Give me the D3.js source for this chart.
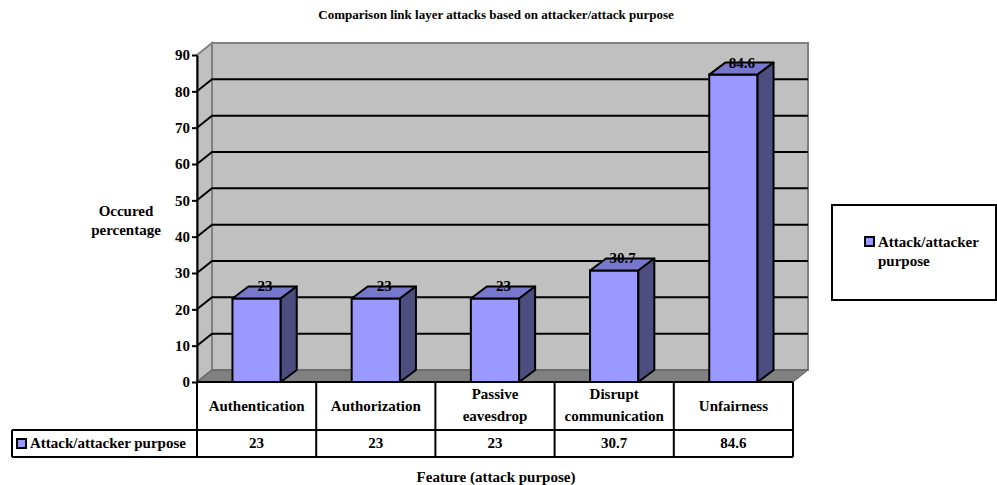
<!DOCTYPE html>
<html>
<head>
<meta charset="utf-8">
<script src="https://cdn.jsdelivr.net/npm/d3@7"></script>
<style>
  html, body { margin: 0; padding: 0; background: #ffffff; }
  svg text { font-family: "Liberation Serif", "Times New Roman", serif; font-weight: bold; fill: #000; }
</style>
</head>
<body>
<svg id="chart" width="997" height="485"></svg>
<script>
// ---- data ----
const categories = ["Authentication", "Authorization", "Passive eavesdrop", "Disrupt communication", "Unfairness"];
const categoryLines = [["Authentication"], ["Authorization"], ["Passive", "eavesdrop"], ["Disrupt", "communication"], ["Unfairness"]];
const values = [23, 23, 23, 30.7, 84.6];
const valueLabels = ["23", "23", "23", "30.7", "84.6"];
const yTicks = [0, 10, 20, 30, 40, 50, 60, 70, 80, 90];
const seriesName = "Attack/attacker purpose";
const titleText = "Comparison link layer attacks based on attacker/attack purpose";
const yTitleLines = ["Occured", "percentage"];
const xTitleText = "Feature (attack purpose)";

(function () {
// ---- layout ----
const svg = d3.select("#chart");
const pL = 197, pR = 793, pT = 55, pB = 382;
const ddx = 15, ddy = -12;           // 3-D depth offset
const rowH = 430, rowB = 457, tableLeft = 12;

const x = d3.scaleBand().domain(categories).range([pL, pR]).padding(0);
const y = d3.scaleLinear().domain([0, 90]).range([pB, pT]);

const wallFill = "#c0c0c0", wallStroke = "#808080", floorFill = "#808080";
const barFront = "#9999ff", barTop = "#7777cc", barSide = "#4d4d80";

// side wall
svg.append("polygon")
  .attr("points", [[pL, y(0)], [pL, y(90)], [pL + ddx, y(90) + ddy], [pL + ddx, y(0) + ddy]].join(" "))
  .attr("fill", wallFill).attr("stroke", wallStroke).attr("stroke-width", 2);
// back wall
svg.append("rect")
  .attr("x", pL + ddx).attr("y", y(90) + ddy)
  .attr("width", pR - pL).attr("height", y(0) - y(90))
  .attr("fill", wallFill).attr("stroke", wallStroke).attr("stroke-width", 2);
// floor
svg.append("polygon")
  .attr("points", [[pL, y(0)], [pR, y(0)], [pR + ddx, y(0) + ddy], [pL + ddx, y(0) + ddy]].join(" "))
  .attr("fill", floorFill).attr("stroke", "#5a5a5a").attr("stroke-width", 1);

// gridlines
const grid = yTicks.filter(t => t > 0 && t < 90);
svg.append("g").selectAll("polyline").data(grid).join("polyline")
  .attr("points", t => [[pL, y(t)], [pL + ddx, y(t) + ddy], [pR + ddx, y(t) + ddy]].join(" "))
  .attr("fill", "none").attr("stroke", "#000").attr("stroke-width", 2);

// y axis
const yAxis = svg.append("g").attr("transform", `translate(${pL},0)`)
  .call(d3.axisLeft(y).tickValues(yTicks).tickSize(5).tickPadding(2).tickSizeOuter(0));
yAxis.select(".domain").attr("stroke", "#000").attr("stroke-width", 2);
yAxis.selectAll(".tick line").attr("stroke", "#000").attr("stroke-width", 2);
yAxis.selectAll(".tick text").style("font-size", "15px").style("font-family", "'Liberation Serif', serif").style("font-weight", "bold").attr("fill", "#000");

// bars
const bw = x.bandwidth() * 0.405;
const bars = svg.append("g").selectAll("g").data(categories).join("g");
bars.each(function (c, i) {
  const g = d3.select(this);
  const cx = x(c) + x.bandwidth() / 2;
  const x0 = cx - bw / 2, x1 = cx + bw / 2;
  const yt = y(values[i]), yb = y(0);
  g.append("rect").attr("x", x0).attr("y", yt).attr("width", bw).attr("height", yb - yt)
    .attr("fill", barFront).attr("stroke", "#000").attr("stroke-width", 2);
  g.append("polygon").attr("points", [[x0, yt], [x1, yt], [x1 + ddx + 1, yt + ddy], [x0 + ddx + 1, yt + ddy]].join(" "))
    .attr("fill", barTop).attr("stroke", "#000").attr("stroke-width", 2).attr("stroke-linejoin", "round");
  g.append("polygon").attr("points", [[x1, yt], [x1 + ddx + 1, yt + ddy], [x1 + ddx + 1, yb + ddy], [x1, yb]].join(" "))
    .attr("fill", barSide).attr("stroke", "#000").attr("stroke-width", 2).attr("stroke-linejoin", "round");
  g.append("text").attr("x", cx + ddx / 2 + 1).attr("y", yt + ddy + 5)
    .attr("text-anchor", "middle").style("font-size", "15px").text(valueLabels[i]);
});

// data table
const tbl = svg.append("g").attr("stroke", "#000").attr("stroke-width", 2);
tbl.append("line").attr("x1", pL).attr("x2", pR).attr("y1", pB).attr("y2", pB);
tbl.append("line").attr("x1", tableLeft).attr("x2", pR).attr("y1", rowH).attr("y2", rowH);
tbl.append("line").attr("x1", tableLeft).attr("x2", pR).attr("y1", rowB).attr("y2", rowB);
tbl.append("line").attr("x1", tableLeft).attr("x2", tableLeft).attr("y1", rowH).attr("y2", rowB);
const bounds = categories.map(c => x(c)).concat([pR]);
tbl.selectAll("line.col").data(bounds).join("line").attr("class", "col")
  .attr("x1", d => d).attr("x2", d => d).attr("y1", pB).attr("y2", rowB);

categories.forEach((c, i) => {
  const cx = x(c) + x.bandwidth() / 2;
  const lines = categoryLines[i];
  const t = svg.append("text").attr("text-anchor", "middle").style("font-size", "15px");
  if (lines.length === 1) {
    t.append("tspan").attr("x", cx).attr("y", 411).text(lines[0]);
  } else {
    t.append("tspan").attr("x", cx).attr("y", 399).text(lines[0]);
    t.append("tspan").attr("x", cx).attr("y", 421).text(lines[1]);
  }
  svg.append("text").attr("x", cx).attr("y", 448).attr("text-anchor", "middle")
    .style("font-size", "15px").text(valueLabels[i]);
});
svg.append("rect").attr("x", 17).attr("y", 439).attr("width", 9).attr("height", 9)
  .attr("fill", barFront).attr("stroke", "#000").attr("stroke-width", 2);
svg.append("text").attr("x", 30).attr("y", 448).style("font-size", "15px").text(seriesName);

// titles
svg.append("text").attr("x", 496).attr("y", 19).attr("text-anchor", "middle").style("font-size", "13px").text(titleText);
svg.append("text").attr("x", 496).attr("y", 482).attr("text-anchor", "middle").style("font-size", "15px").text(xTitleText);
const ytt = svg.append("text").attr("text-anchor", "middle").style("font-size", "15px");
ytt.append("tspan").attr("x", 126).attr("y", 216).text(yTitleLines[0]);
ytt.append("tspan").attr("x", 126).attr("y", 235).text(yTitleLines[1]);

// legend
svg.append("rect").attr("x", 832).attr("y", 205).attr("width", 164).attr("height", 95)
  .attr("fill", "#fff").attr("stroke", "#000").attr("stroke-width", 2);
svg.append("rect").attr("x", 865).attr("y", 237).attr("width", 9).attr("height", 9)
  .attr("fill", barFront).attr("stroke", "#000").attr("stroke-width", 2);
const lg = svg.append("text").style("font-size", "15px");
lg.append("tspan").attr("x", 878).attr("y", 247).text("Attack/attacker");
lg.append("tspan").attr("x", 878).attr("y", 266).text("purpose");
})();
</script>
</body>
</html>
